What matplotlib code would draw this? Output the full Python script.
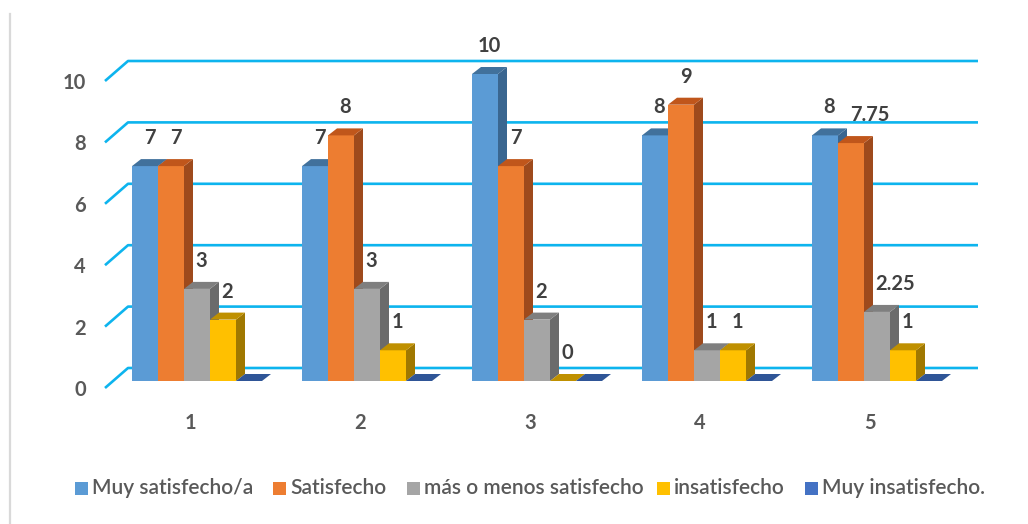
import matplotlib
matplotlib.use("Agg")
import matplotlib.pyplot as plt
from matplotlib.patches import Polygon, Rectangle

# ---- data ----
categories = ["1", "2", "3", "4", "5"]
series_names = ["Muy satisfecho/a", "Satisfecho", "más o menos satisfecho",
                "insatisfecho", "Muy insatisfecho."]
muy_satisfecho = [7, 7, 10, 8, 8]
satisfecho = [7, 8, 7, 9, 7.75]
mas_o_menos = [3, 3, 2, 1, 2.25]
insatisfecho = [2, 1, 0, 1, 1]
muy_insatisfecho = [0, 0, 0, 0, 0]
y_ticks = [0, 2, 4, 6, 8, 10]

series = [muy_satisfecho, satisfecho, mas_o_menos, insatisfecho, muy_insatisfecho]
show_label = [True, True, True, True, False]

# colours: (front, top, side)
colors = [
    ("#5B9BD5", "#41719C", "#3A6690"),
    ("#ED7D31", "#C0561B", "#9E4A1C"),
    ("#A5A5A5", "#7F7F7F", "#6B6B6B"),
    ("#FFC000", "#BF9000", "#A07800"),
    ("#4472C4", "#2F5597", "#27467C"),
]

W, H = 1028, 524
fig = plt.figure(figsize=(W / 100, H / 100), dpi=100)
ax = fig.add_axes([0, 0, 1, 1])

PXX = 170.0   # pixels per category
PXY = 30.7    # pixels per value unit
X0PX = 190.0  # pixel of category 1
Y0PX = 381.0  # pixel (from top) of value 0
ax.set_xlim(1 - X0PX / PXX, 1 + (W - X0PX) / PXX)
ax.set_ylim(-(H - Y0PX) / PXY, Y0PX / PXY)
ax.axis("off")

def px(dx):
    return dx / PXX

def py(dy):
    return dy / PXY

def xpix(p):
    return 1 + (p - X0PX) / PXX

def ypix(p):
    return (Y0PX - p) / PXY

txt_col = "#404040"
font = ["Lato", "DejaVu Sans"]

# left border line
ax.plot([xpix(10)] * 2, [ypix(14), ypix(H)],
        color="#D9D9D9", lw=1.6, zorder=0, clip_on=False)

# gridlines (3D wall style)
xf, xb, xe = xpix(105), xpix(128), xpix(978)
for v in y_ticks:
    ax.plot([xf, xb, xe], [v - py(7), v + py(13), v + py(13)],
            color="#0DB4EE", lw=1.9, zorder=1, solid_capstyle="butt")
    ax.text(xpix(86), v - py(9), str(v), ha="right", va="center",
            fontsize=14.5, color="#595959", family=font, fontweight="bold")

# bars
w = px(26)
ddx = px(9)
ddy = py(7)
for i, cat in enumerate(categories):
    base = (i + 1) - px(58)
    for j, vals in enumerate(series):
        v = vals[i]
        x = base + j * w
        fc, tc, sc = colors[j]
        if v > 0:
            side = Polygon([(x + w, 0), (x + w + ddx, ddy), (x + w + ddx, v + ddy), (x + w, v)],
                           closed=True, facecolor=sc, edgecolor="none", zorder=3)
            ax.add_patch(side)
            ax.bar([x], [v], width=w, align="edge", color=fc, zorder=3, linewidth=0)
        top = Polygon([(x, v), (x + w, v), (x + w + ddx, v + ddy), (x + ddx, v + ddy)],
                      closed=True, facecolor=tc, edgecolor="none", zorder=3)
        ax.add_patch(top)
        if show_label[j]:
            lab = f"{v:g}"
            extra = px(14) if "." in lab else 0
            ax.text(x + w / 2 + ddx / 2 + extra, v + py(28), lab, ha="center", va="center",
                    fontsize=14.5, color=txt_col, family=font, fontweight="bold", zorder=5)
    ax.text(i + 1, ypix(423), cat, ha="center", va="center", fontsize=14.5,
            color="#595959", family=font, fontweight="bold")

# legend (manual, matching reference positions)
legend_x = [75, 273, 407, 657, 805]
for name, (fc, _, _), lx in zip(series_names, colors, legend_x):
    ax.add_patch(Rectangle((xpix(lx), ypix(488 + 6.5)), px(13), py(13),
                           facecolor=fc, edgecolor="none", clip_on=False))
    ax.text(xpix(lx + 17), ypix(488), name, ha="left", va="center",
            fontsize=15, color="#595959", family=font, fontweight="semibold")

fig.savefig("out.png", dpi=100, facecolor="white")
